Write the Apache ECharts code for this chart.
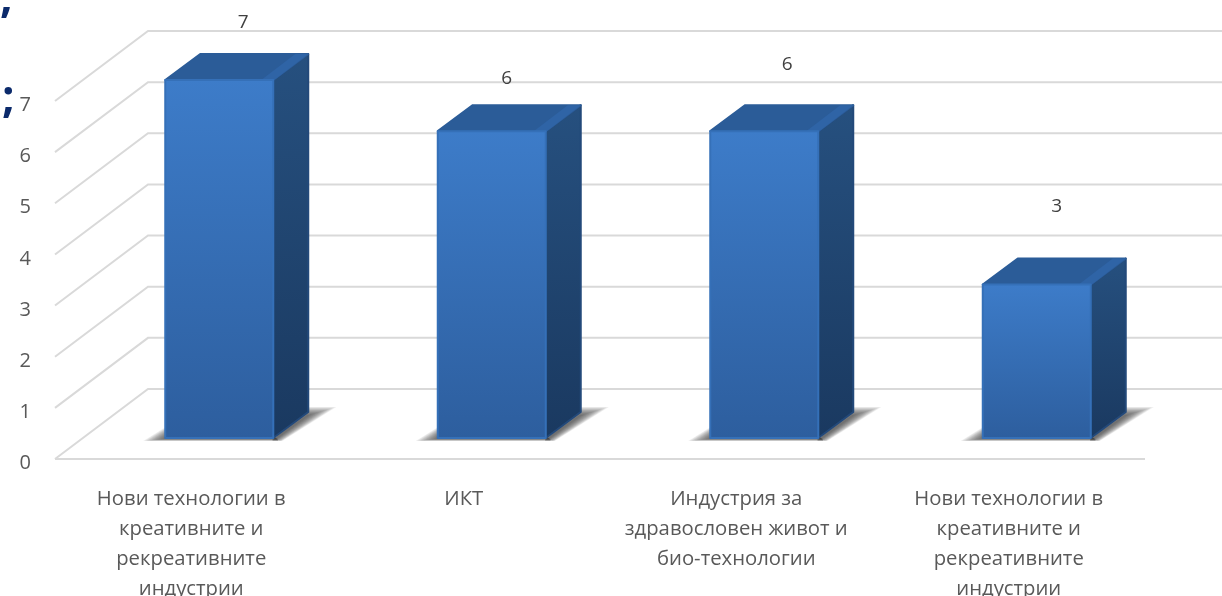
<!DOCTYPE html>
<html><head><meta charset="utf-8">
<style>html,body{margin:0;padding:0;background:#fff}#c{width:1222px;height:596px}</style>
<script src="https://cdn.jsdelivr.net/npm/echarts@6/dist/echarts.min.js"></script>
</head><body><div id="c"></div>
<script>
const categories = [
  "Нови технологии в\nкреативните и\nрекреативните\nиндустрии",
  "ИКТ",
  "Индустрия за\nздравословен живот и\nбио-технологии",
  "Нови технологии в\nкреативните и\nрекреативните\nиндустрии"
];
const values = [7, 6, 6, 3];
const gridValues = [0, 1, 2, 3, 4, 5, 6, 7];

// drawing constants (styling only)
const FONT = '"Open Sans", sans-serif';
const DEPTH = [93, -70], BAR_SHIFT = [28, -21], BAR_DEPTH = [35, -26], BAR_W = 108;
const LABEL_OFFS = [[24, -57], [15, -53], [23, -67], [20, -78]];
const SHADOW_STEPS = 14;

const chart = echarts.init(document.getElementById('c'), null, {renderer: 'canvas'});
const grad = (a, b) => new echarts.graphic.LinearGradient(0, 0, 0, 1, [{offset: 0, color: a}, {offset: 1, color: b}]);

function renderGrid(params, api) {
  const v = api.value(0);
  const l = api.coord([-0.5, v]);
  const lx = params.coordSys.x, rx = lx + params.coordSys.width;
  const line = {stroke: '#d9d9d9', lineWidth: 2, fill: null};
  const children = [{
    type: 'polyline', style: line,
    shape: {points: [[lx, l[1]], [lx + DEPTH[0], l[1] + DEPTH[1]], [rx + DEPTH[0], l[1] + DEPTH[1]]]}
  }];
  if (v === 0) children.push({type: 'line', style: line, shape: {x1: lx, y1: l[1], x2: rx, y2: l[1]}});
  return {type: 'group', children};
}

function renderBar(params, api) {
  const i = api.value(0), v = api.value(1);
  const b = api.coord([i, 0]), t = api.coord([i, v]);
  const x0 = b[0] - BAR_W / 2 + BAR_SHIFT[0], x1 = x0 + BAR_W;
  const yb = b[1] + BAR_SHIFT[1], yt = t[1] + BAR_SHIFT[1];
  const dx = BAR_DEPTH[0], dy = BAR_DEPTH[1];
  const edge = (c) => ({lineWidth: 2, stroke: c, lineJoin: 'round'});
  const shadows = [];
  const shade = {fill: 'rgba(50,50,50,0.08)'};
  for (let k = 0; k < SHADOW_STEPS; k++) {
    const s = 1 - k / (SHADOW_STEPS - 1);
    shadows.push({type: 'polygon', shape: {points: [
      [x1 - 1, yb + 1 + 2 * s], [x1 + dx - 1, yb + dy + 3 - 8 * s], [x1 + dx + 1 + 27 * s, yb + dy + 3 - 8 * s], [x1 + 3 + 6 * s, yb + 1 + 2 * s]
    ]}, style: shade});
    shadows.push({type: 'polygon', shape: {points: [
      [x0 + 2, yb - 3 - 9 * s], [x0 - 1 - 21 * s, yb + 1 + 2 * s], [x1 + 5, yb + 1 + 2 * s], [x1, yb - 2]
    ]}, style: shade});
  }
  return {type: 'group', children: shadows.concat([
    {type: 'polygon', shape: {points: [[x1, yb], [x1 + dx, yb + dy], [x1 + dx, yt + dy], [x1, yt]]},
     style: Object.assign({fill: grad('#26507f', '#1a3960')}, edge('#23497a'))},
    {type: 'polygon', shape: {points: [[x0, yt], [x1, yt], [x1 + dx, yt + dy], [x0 + dx, yt + dy]]},
     style: Object.assign({fill: '#2b5c98'}, edge('#2b5c98'))},
    {type: 'polygon', shape: {points: [[x1 + 1, yt], [x1 + dx, yt + dy], [x1 + dx - 13, yt + dy], [x1 - 12, yt]]},
     style: {fill: '#2f64a6'}},
    {type: 'polygon', shape: {points: [[x0, yb], [x1, yb], [x1, yt], [x0, yt]]},
     style: Object.assign({fill: grad('#3d7cc9', '#2d5e9e')}, edge('#3570b8'))},
    {type: 'text', style: {text: String(v), x: x0 + BAR_W / 2 + LABEL_OFFS[i][0], y: yt + LABEL_OFFS[i][1],
      fill: '#404040', font: '19px ' + FONT, align: 'center', verticalAlign: 'middle'}}
  ])};
}

chart.setOption({
  animation: false,
  backgroundColor: '#fff',
  grid: {left: 55, right: 77, top: 101, bottom: 137, containLabel: false, outerBoundsMode: 'none'},
  xAxis: {
    type: 'category',
    data: categories,
    axisLine: {show: false}, axisTick: {show: false}, splitLine: {show: false},
    axisLabel: {interval: 0, margin: 25, color: '#595959', fontFamily: FONT, fontSize: 20.3, lineHeight: 30, align: 'center', verticalAlign: 'top'}
  },
  yAxis: {
    type: 'value', min: 0, max: 7, interval: 1,
    axisLine: {show: false}, axisTick: {show: false}, splitLine: {show: false},
    axisLabel: {margin: 24, color: '#595959', fontFamily: FONT, fontSize: 20, verticalAlign: 'top', lineHeight: 9, showMinLabel: true, showMaxLabel: true}
  },
  series: [
    {type: 'custom', z: 1, silent: true, renderItem: renderGrid, data: gridValues.map(v => [v]), encode: {y: 0}, clip: false},
    {type: 'custom', z: 2, silent: true, renderItem: renderBar, data: values.map((v, i) => [i, v]), encode: {x: 0, y: 1}, clip: false}
  ],
  graphic: [
    {type: 'text', left: 0, top: -23, style: {text: ',', fill: '#0b2a6b', font: 'bold 44px ' + FONT}},
    {type: 'text', left: 2, top: 77, style: {text: ';', fill: '#0b2a6b', font: 'bold 44px ' + FONT}},
    {type: 'text', left: -12, top: 77, style: {text: '.', fill: '#0b2a6b', font: 'bold 44px ' + FONT}}
  ]
});
</script></body></html>
